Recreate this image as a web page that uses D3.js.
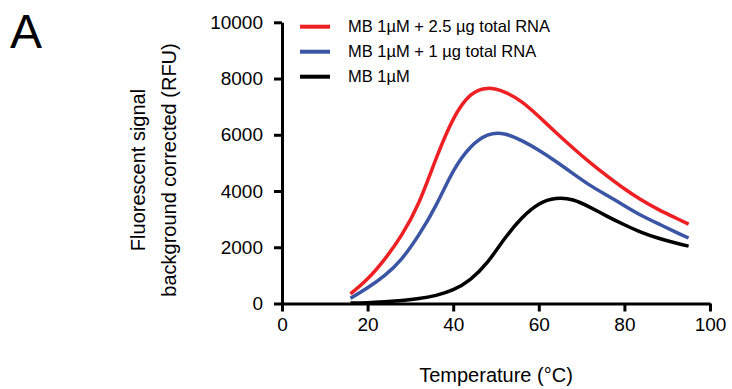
<!DOCTYPE html>
<html>
<head>
<meta charset="utf-8">
<script src="https://cdn.jsdelivr.net/npm/d3@7"></script>
<style>
  body { margin: 0; background: #fff; }
  svg { font-family: "Liberation Sans", Arial, sans-serif; }
</style>
</head>
<body>
<svg></svg>
<script>
// data
const temps = [16, 20, 24, 28, 32, 36, 40, 44, 48, 52, 56, 60, 64, 68, 72, 76, 80, 84, 88, 92, 95]
const rna25 = [340, 880, 1580, 2450, 3600, 5150, 6550, 7400, 7650, 7520, 7170, 6650, 6080, 5530, 5010, 4530, 4080, 3680, 3340, 3040, 2820]
const rna1 = [185, 560, 1000, 1600, 2450, 3500, 4700, 5550, 5990, 6030, 5790, 5450, 5050, 4620, 4200, 3840, 3480, 3130, 2830, 2540, 2330]
const mbOnly = [15, 30, 65, 110, 175, 290, 490, 860, 1470, 2300, 3030, 3530, 3730, 3680, 3420, 3100, 2800, 2530, 2320, 2150, 2040]

const seriesNames = ["MB 1\u00b5M + 2.5 \u00b5g total RNA", "MB 1\u00b5M + 1 \u00b5g total RNA", "MB 1\u00b5M"]
const seriesColors = ["#ee2024", "#3b55a5", "#000000"]
const xTicks = [0, 20, 40, 60, 80, 100]
const yTicks = [0, 2000, 4000, 6000, 8000, 10000]

const width = 732
const height = 389

let svg = d3.select("svg")
    .attr("width", width)
    .attr("height", height)

let x = d3.scaleLinear().domain([0, 100]).range([282, 710])
let y = d3.scaleLinear().domain([0, 10000]).range([303.5, 22.3])

// axes
let xAxis = svg.append("g")
    .attr("transform", "translate(0," + y(0) + ")")
    .call(d3.axisBottom(x).tickValues(xTicks).tickFormat(d3.format("d")).tickSize(8).tickPadding(6).tickSizeOuter(0))

let yAxis = svg.append("g")
    .attr("transform", "translate(" + x(0) + ",0)")
    .call(d3.axisLeft(y).tickValues(yTicks).tickFormat(d3.format("d")).tickSize(8).tickPadding(11).tickSizeOuter(0))

svg.selectAll(".domain, .tick line")
    .attr("stroke", "#000")
    .attr("stroke-width", 3)
svg.selectAll(".tick text")
    .attr("fill", "#000")
    .style("font-size", "19px")
    .style("font-family", "Liberation Sans, Arial, sans-serif")

// lines
let data = [rna25, rna1, mbOnly]
let line = d3.line()
    .x(function(d, i) { return x(temps[i]) })
    .y(function(d) { return y(d) })
    .curve(d3.curveNatural)

svg.selectAll(".curve")
    .data(data)
    .enter()
    .append("path")
    .attr("class", "curve")
    .attr("d", line)
    .attr("fill", "none")
    .attr("stroke", function(d, i) { return seriesColors[i] })
    .attr("stroke-width", 3.5)

// legend
let legend = svg.selectAll(".legend")
    .data(seriesNames)
    .enter()
    .append("g")
    .attr("class", "legend")
    .attr("transform", function(d, i) { return "translate(300," + (26.7 + i * 25) + ")" })

legend.append("line")
    .attr("x1", 0).attr("x2", 30)
    .attr("stroke", function(d, i) { return seriesColors[i] })
    .attr("stroke-width", 4)

legend.append("text")
    .attr("x", 48)
    .attr("dy", "0.35em")
    .style("font-size", "16.5px")
    .text(function(d) { return d })

// axis titles
svg.append("text")
    .attr("x", x(50))
    .attr("y", 382)
    .attr("text-anchor", "middle")
    .style("font-size", "20px")
    .text("Temperature (\u00b0C)")

let yTitle = svg.append("text")
    .attr("transform", "translate(145,170) rotate(-90)")
    .attr("text-anchor", "middle")
    .style("font-size", "20px")
yTitle.append("tspan").attr("x", 0).attr("y", 0).text("Fluorescent signal")
yTitle.append("tspan").attr("x", 0).attr("y", 31).text("background corrected (RFU)")

// panel letter
svg.append("text")
    .attr("x", 10)
    .attr("y", 48)
    .style("font-size", "48px")
    .text("A")
</script>
</body>
</html>
